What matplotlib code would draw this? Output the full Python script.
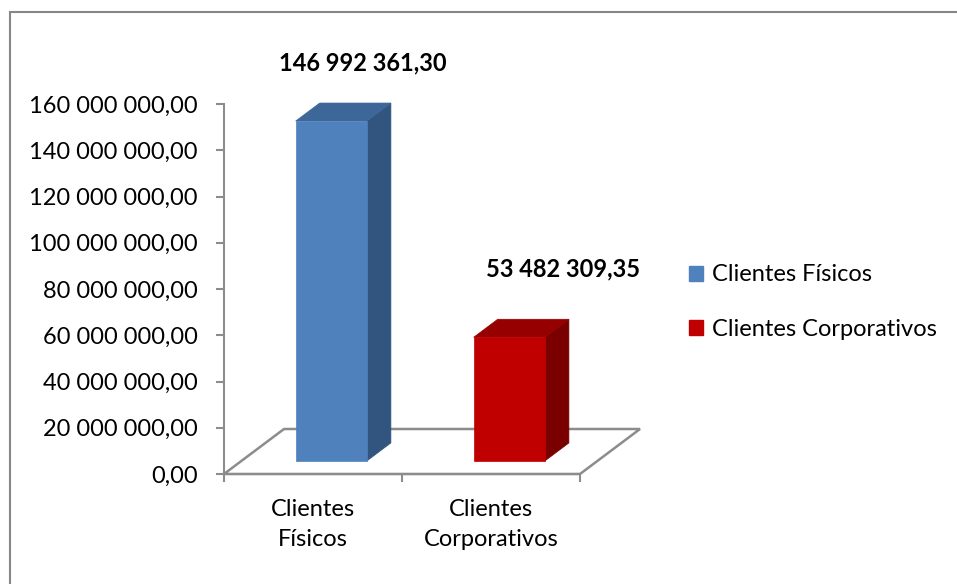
import matplotlib
matplotlib.use("Agg")
import matplotlib.pyplot as plt
from matplotlib.patches import Polygon, Patch, Rectangle

plt.rcParams["font.family"] = ["Lato", "DejaVu Sans"]

categories = ["Clientes\nFísicos", "Clientes\nCorporativos"]
series_names = ["Clientes Físicos", "Clientes Corporativos"]
values = [146992361.30, 53482309.35]
y_ticks = [0, 20e6, 40e6, 60e6, 80e6, 100e6, 120e6, 140e6, 160e6]

front_colors = ["#4F81BD", "#C00000"]
top_colors = ["#3C6798", "#960000"]
side_colors = ["#31557F", "#7A0000"]
grey = "#8C8C8C"

W, H = 957, 584
fig = plt.figure(figsize=(W / 100, H / 100), dpi=100)

# plot area in pixels: x 224..580, y 104..474
ax = fig.add_axes([224 / W, 1 - 474 / H, 356 / W, 370 / H])
ax.set_xlim(0, 2)
ax.set_ylim(0, 160e6)

# oblique depth (full floor depth) in data units
px_x = 356 / 2          # px per category
px_v = 370 / 160e6      # px per value unit
DX = 60 / px_x
DV = 45 / px_v


def proj(x, v, d):
    return (x + d * DX, v + d * DV)


# floor
floor = Polygon([proj(0, 0, 0), proj(2, 0, 0), proj(2, 0, 1), proj(0, 0, 1)],
                closed=True, facecolor="white", edgecolor=grey, lw=1.8,
                clip_on=False, zorder=1)
ax.add_patch(floor)

# 3d columns
d0, d1 = 0.29, 0.69
bw = 0.4
for i, v in enumerate(values):
    x0 = i + 0.305
    x1 = x0 + bw
    front = [proj(x0, 0, d0), proj(x1, 0, d0), proj(x1, v, d0), proj(x0, v, d0)]
    top = [proj(x0, v, d0), proj(x1, v, d0), proj(x1, v, d1), proj(x0, v, d1)]
    side = [proj(x1, 0, d0), proj(x1, 0, d1), proj(x1, v, d1), proj(x1, v, d0)]
    for pts, c in [(side, side_colors[i]), (top, top_colors[i]), (front, front_colors[i])]:
        ax.add_patch(Polygon(pts, closed=True, facecolor=c, edgecolor=c, lw=0.5,
                             clip_on=False, zorder=3))

# data labels (pixel offsets from back-top centre)
label_offsets = [(8, 40), (30, 50)]
for i, v in enumerate(values):
    cx, cy = proj(i + 0.305 + bw / 2, v, d1)
    txt = f"{v:,.2f}".replace(",", " ").replace(".", ",")
    ax.annotate(txt, (cx, cy), xytext=(label_offsets[i][0] * 0.72, label_offsets[i][1] * 0.72),
                textcoords="offset points", ha="center", va="center",
                fontsize=17, fontweight="bold", annotation_clip=False)

# axes styling
for s in ["top", "right"]:
    ax.spines[s].set_visible(False)
for s in ["left", "bottom"]:
    ax.spines[s].set_color(grey)
    ax.spines[s].set_linewidth(1.5)
    ax.spines[s].set_zorder(2)

ax.set_yticks(y_ticks)
ax.set_yticklabels([f"{t:,.2f}".replace(",", " ").replace(".", ",") for t in y_ticks])
ax.tick_params(axis="y", direction="out", length=6, width=1.5, color=grey,
               pad=13, labelsize=17)
ax.set_xticks([0, 1, 2])
ax.set_xticklabels([])
ax.tick_params(axis="x", which="major", direction="out", length=6, width=1.5, color=grey)
ax.set_xticks([0.5, 1.5], minor=True)
ax.set_xticklabels(categories, minor=True, fontsize=17, linespacing=1.55)
ax.tick_params(axis="x", which="minor", length=0, pad=18)
ax.patch.set_visible(False)

# legend
handles = [Patch(facecolor=c, edgecolor=c) for c in front_colors]
fig.legend(handles, series_names, loc="center left",
           bbox_to_anchor=(668 / W, 1 - 302 / H), frameon=False, fontsize=17,
           handlelength=0.6, handleheight=0.6, handletextpad=0.35, labelspacing=1.4)

# outer chart border
fig.add_artist(Rectangle((10 / W, -0.05), 1.05, 1 - 12 / H + 0.05,
                         transform=fig.transFigure, fill=False,
                         edgecolor="#878787", lw=1.5))

fig.savefig("out.png", dpi=100)
